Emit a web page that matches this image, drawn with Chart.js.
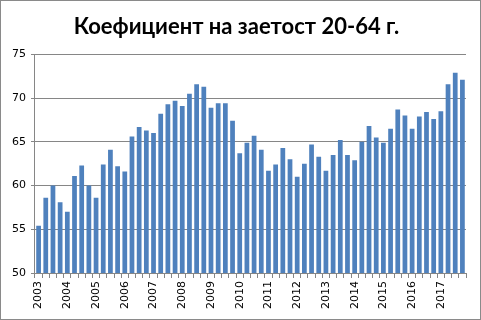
<!DOCTYPE html>
<html>
<head>
<meta charset="utf-8">
<script src="https://cdn.jsdelivr.net/npm/chart.js@4"></script>
<style>
  html, body { margin: 0; padding: 0; background: #fff; }
  .box { width: 481px; height: 320px; box-sizing: border-box; border: 1px solid #8a8a8a; position: relative; }
  .box canvas { display: block; }
</style>
</head>
<body>
<div class="box"><canvas id="graf" width="479" height="318"></canvas></div>
<script>
// Коефициент на заетост 20-64 г., по тримесечия 2003-2017
var godini = ["2003", "2004", "2005", "2006", "2007", "2008", "2009", "2010",
              "2011", "2012", "2013", "2014", "2015", "2016", "2017"];
var trimesechia = [];
godini.forEach(function (g) {
  for (var q = 1; q <= 4; q++) trimesechia.push(g + " Q" + q);
});
var koeficient = [
  55.4, 58.6, 60.0, 58.1,   // 2003
  57.0, 61.1, 62.3, 60.0,   // 2004
  58.6, 62.4, 64.1, 62.2,   // 2005
  61.6, 65.6, 66.7, 66.3,   // 2006
  66.0, 68.2, 69.3, 69.7,   // 2007
  69.1, 70.5, 71.6, 71.3,   // 2008
  68.9, 69.4, 69.4, 67.4,   // 2009
  63.7, 64.9, 65.7, 64.1,   // 2010
  61.7, 62.4, 64.3, 63.0,   // 2011
  61.0, 62.5, 64.7, 63.3,   // 2012
  61.7, 63.5, 65.2, 63.5,   // 2013
  62.9, 65.0, 66.8, 65.5,   // 2014
  64.9, 66.5, 68.7, 68.0,   // 2015
  66.5, 67.9, 68.4, 67.6,   // 2016
  68.5, 71.6, 72.9, 72.1    // 2017
];
var yTicks = { min: 50, max: 75, step: 5 };

var SIVO = "#868686";

new Chart(document.getElementById("graf"), {
  type: "bar",
  data: {
    labels: trimesechia,
    datasets: [{
      label: "Коефициент на заетост 20-64 г.",
      data: koeficient,
      backgroundColor: "#4F81BD",
      borderWidth: 0,
      categoryPercentage: 1,
      barPercentage: 0.66
    }]
  },
  options: {
    responsive: false,
    animation: false,
    layout: { padding: { left: 6, right: 14, top: 5, bottom: 7 } },
    plugins: {
      legend: { display: false },
      tooltip: { enabled: false },
      title: {
        display: true,
        text: "Коефициент на заетост 20-64 г.",
        color: "#000",
        font: { family: "Lato", size: 22, weight: "bold" },
        padding: { top: 8, bottom: 14 }
      }
    },
    scales: {
      x: {
        grid: { drawOnChartArea: false, drawTicks: true, tickLength: 5, color: SIVO, offset: true },
        border: { display: true, color: SIVO },
        ticks: {
          autoSkip: false, maxRotation: 90, minRotation: 90,
          color: "#000", padding: 3,
          font: { family: "DejaVu Sans", size: 11 },
          callback: function (v, i) { return i % 4 === 0 ? trimesechia[i].slice(0, 4) : ""; }
        }
      },
      y: {
        min: yTicks.min, max: yTicks.max,
        grid: { color: SIVO, tickLength: 4 },
        border: { display: true, color: SIVO },
        ticks: {
          stepSize: yTicks.step, color: "#000", padding: 5,
          font: { family: "DejaVu Sans", size: 11 }
        }
      }
    }
  }
});
</script>
</body>
</html>
